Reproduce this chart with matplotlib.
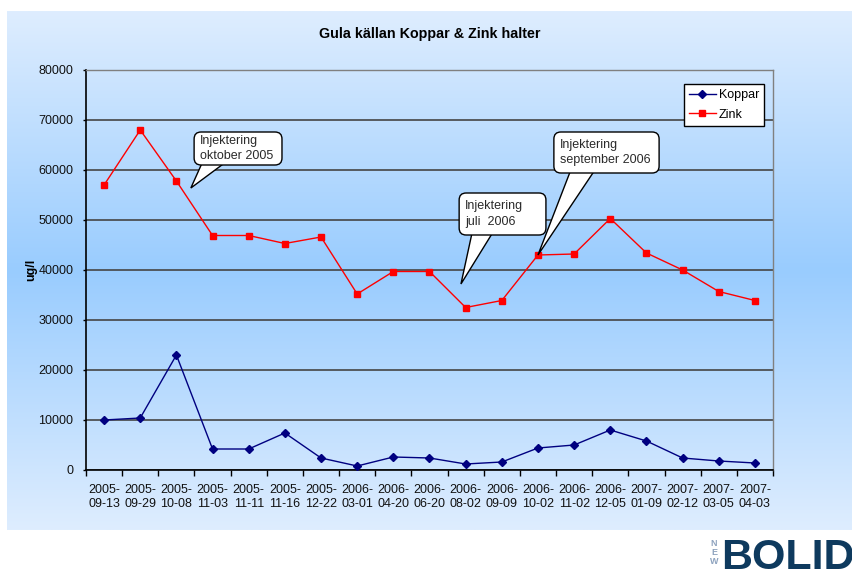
import numpy as np
import matplotlib
matplotlib.use("Agg")
import matplotlib.pyplot as plt
from matplotlib import font_manager
from matplotlib.patches import FancyBboxPatch, Polygon
from matplotlib.ticker import FixedLocator

# sample dates (x categories)
dates = ["2005-\n09-13", "2005-\n09-29", "2005-\n10-08", "2005-\n11-03", "2005-\n11-11",
         "2005-\n11-16", "2005-\n12-22", "2006-\n03-01", "2006-\n04-20", "2006-\n06-20",
         "2006-\n08-02", "2006-\n09-09", "2006-\n10-02", "2006-\n11-02", "2006-\n12-05",
         "2007-\n01-09", "2007-\n02-12", "2007-\n03-05", "2007-\n04-03"]

# concentrations, ug/l
koppar = [10000, 10400, 23000, 4200, 4200, 7400, 2400, 800, 2600, 2400,
          1200, 1600, 4400, 5000, 8000, 5800, 2400, 1800, 1400]
zink = [57000, 68000, 57800, 46900, 46900, 45300, 46600, 35200, 39700, 39700,
        32500, 33900, 43000, 43200, 50300, 43400, 40000, 35700, 33900]

y_ticks = [0, 10000, 20000, 30000, 40000, 50000, 60000, 70000, 80000]

# callouts in data units: text, box (x0, x1, y0, y1), pointer tip, pointer base x0/x1
callout_text = ["Injektering\noktober 2005", "Injektering\njuli  2006",
                "Injektering\nseptember 2006"]
callout_box = [(2.49, 4.92, 61000, 67600), (9.82, 12.22, 47000, 55400),
               (12.44, 15.35, 59400, 67600)]
callout_tip = [(2.40, 56400), (9.87, 37200), (12, 43000)]
callout_base = [(2.76, 3.48), (10.20, 10.81), (12.94, 13.63)]

W, H = 853, 569
plt.rcParams["font.family"] = ["Liberation Sans", "DejaVu Sans"]

fig = plt.figure(figsize=(W / 100, H / 100), dpi=100)

# gradient panel behind the chart
bg = fig.add_axes([0, 0, 1, 1], zorder=-10)
bg.set_xlim(0, W)
bg.set_ylim(H, 0)
bg.axis("off")
top = np.array([222, 237, 254]) / 255
mid = np.array([153, 204, 255]) / 255
t = np.abs(np.linspace(-1, 1, 300))[:, None]
grad = (t * top + (1 - t) * mid)[:, None, :].repeat(2, axis=1)
bg.imshow(grad, extent=[7, W, 530, 11], aspect="auto", interpolation="bilinear")

ax = fig.add_axes([86 / W, 1 - 470 / H, 687 / W, 400 / H])
ax.set_facecolor("none")

x = np.arange(len(dates))
ax.plot(x, koppar, color="#000080", lw=1, marker="D", ms=4.5, label="Koppar", zorder=4)
ax.plot(x, zink, color="#ff0000", lw=1, marker="s", ms=4.5, label="Zink", zorder=4)

ax.set_xlim(-0.5, len(dates) - 0.5)
ax.set_ylim(0, 80000)
ax.set_yticks(y_ticks)
ax.set_yticklabels([str(v) for v in y_ticks])
ax.yaxis.grid(True, color="#454545", lw=1.2)
ax.set_axisbelow(True)

# ticks between categories, labels under categories
ax.xaxis.set_major_locator(FixedLocator(np.arange(-0.5, len(dates), 1.0)))
ax.xaxis.set_minor_locator(FixedLocator(x))
ax.set_xticklabels([], minor=False)
ax.set_xticklabels(dates, minor=True, fontsize=9, linespacing=1.2, color="#111111")
ax.tick_params(axis="x", which="major", length=4, width=1, direction="out")
ax.tick_params(axis="x", which="minor", length=0, pad=10)
ax.tick_params(axis="y", length=2.5, width=1, pad=6.5, labelsize=9, labelcolor="#111111")

for s in ["left", "bottom"]:
    ax.spines[s].set_color("black")
    ax.spines[s].set_linewidth(1.2)
for s in ["top", "right"]:
    ax.spines[s].set_color("#808080")
    ax.spines[s].set_linewidth(1)

ax.set_ylabel("ug/l", fontsize=9, fontweight="bold", labelpad=1)

fig.text(430 / W, 1 - 34 / H, "Gula källan Koppar & Zink halter", ha="center", va="center",
         fontsize=10.3, fontweight="bold")

leg = ax.legend(loc="upper right", bbox_to_anchor=(0.987, 0.965), borderaxespad=0,
                fontsize=9, fancybox=False, framealpha=1, edgecolor="black",
                handlelength=2.2, handletextpad=0.2, borderpad=0.4, labelspacing=0.6)
leg.get_frame().set_linewidth(1)

# speech-bubble callouts
x_per_px = (len(dates)) / 687
y_per_px = 80000 / 400
aspect = y_per_px / x_per_px
for txt, (x0, x1, y0, y1), tip, (b0, b1) in zip(callout_text, callout_box, callout_tip,
                                                  callout_base):
    base_y = y0 + 6 * y_per_px
    ax.add_patch(Polygon([(b0, base_y), tip, (b1, base_y)], closed=True, fc="white",
                         ec="black", lw=1, zorder=5, clip_on=False))
    ax.add_patch(FancyBboxPatch((x0, y0), x1 - x0, y1 - y0,
                                boxstyle=f"round,pad=0,rounding_size={7 * x_per_px}",
                                mutation_aspect=aspect, fc="white", ec="black", lw=1,
                                zorder=6, clip_on=False))
    ax.text(x0 + 6 * x_per_px, (y0 + y1) / 2, txt, ha="left", va="center", fontsize=9,
            linespacing=1.4, color="#2a2a2a", zorder=7)

# logo
fig.text(721 / W, 1 - 538 / H, "BOLIDEN", ha="left", va="top", color="#0e3a5e",
         fontsize=31, fontweight="bold")
for i, ch in enumerate("NEW"):
    fig.text(714 / W, 1 - (543.5 + i * 9) / H, ch, ha="center", va="center", fontsize=6.5,
             fontweight="bold", color="#8ea3bf")

fig.savefig("out.png", dpi=100)
